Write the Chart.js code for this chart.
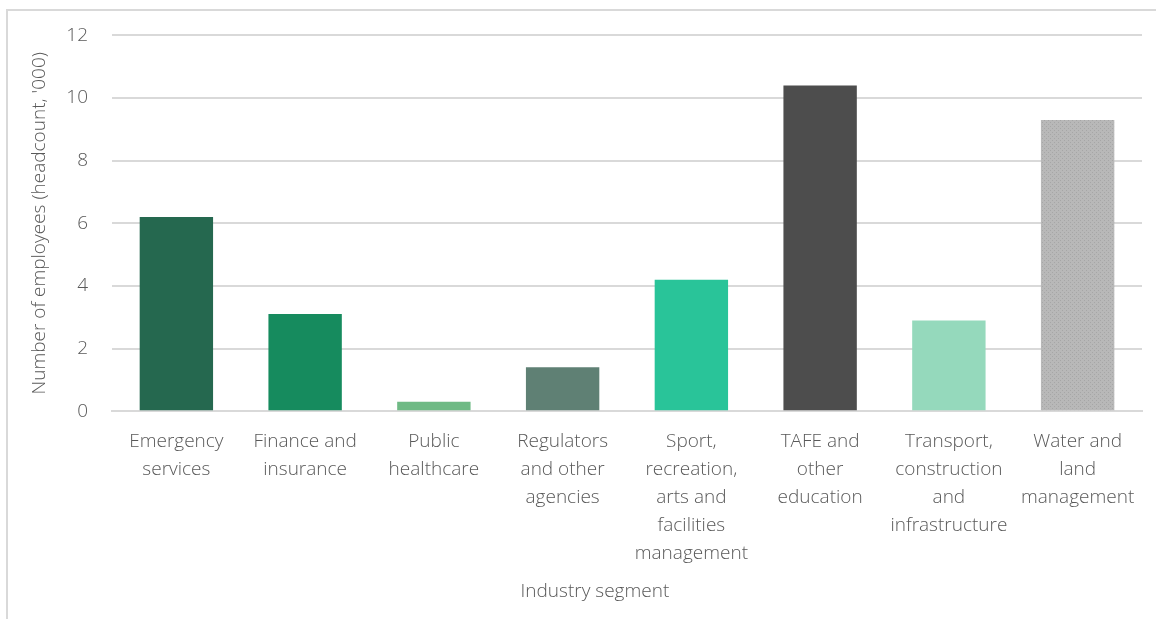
<!DOCTYPE html>
<html lang="en">
<head>
    <meta charset="UTF-8">
    <title>Employees by industry segment</title>
    <script src="https://cdn.jsdelivr.net/npm/chart.js"></script>
    <style>
        html, body {
            margin: 0;
            padding: 0;
            background: #fff;
            overflow: hidden;
        }
        .frame {
            position: absolute;
            left: 6px;
            top: 9px;
            width: 1170px;
            height: 640px;
            border: 2px solid #d9d9d9;
        }
        .wrap {
            position: absolute;
            left: 0;
            top: 0;
            width: 1156px;
            height: 619px;
        }
    </style>
</head>
<body>
    <div class="frame"></div>
    <div class="wrap">
        <canvas id="chart"></canvas>
    </div>

    <script>
        const categories = [
            ["Emergency", "services"],
            ["Finance and", "insurance"],
            ["Public", "healthcare"],
            ["Regulators", "and other", "agencies"],
            ["Sport,", "recreation,", "arts and", "facilities", "management"],
            ["TAFE and", "other", "education"],
            ["Transport,", "construction", "and", "infrastructure"],
            ["Water and", "land", "management"]
        ];
        const employees = [6.2, 3.1, 0.3, 1.4, 4.2, 10.4, 2.9, 9.3];
        const yTicks = [0, 2, 4, 6, 8, 10, 12];

        const textColor = '#595959';
        const gridColor = '#d9d9d9';
        const font = { family: "'Open Sans', sans-serif", size: 19, weight: 300, lineHeight: 28 / 19 };
        const titleFont = { family: "'Open Sans', sans-serif", size: 19, weight: 300, lineHeight: 1.2 };

        // dotted grey fill like the last bar
        function dotPattern() {
            const c = document.createElement('canvas');
            c.width = 4;
            c.height = 4;
            const g = c.getContext('2d');
            g.fillStyle = '#b8b8b8';
            g.fillRect(0, 0, 4, 4);
            g.fillStyle = '#a6a6a6';
            g.fillRect(0, 0, 1, 1);
            g.fillRect(2, 2, 1, 1);
            return g.createPattern(c, 'repeat');
        }

        const colors = ['#25684f', '#168b5e', '#6fba85', '#5f8074', '#29c499', '#4d4d4d', '#95d9bc', dotPattern()];

        new Chart(document.getElementById('chart'), {
            type: 'bar',
            data: {
                labels: categories,
                datasets: [{
                    data: employees,
                    backgroundColor: colors,
                    borderWidth: 0,
                    barPercentage: 0.57,
                    categoryPercentage: 1
                }]
            },
            options: {
                responsive: true,
                maintainAspectRatio: false,
                animation: false,
                layout: {
                    padding: { left: 28, right: 14, top: 26, bottom: 16 }
                },
                plugins: {
                    legend: { display: false },
                    tooltip: { enabled: false }
                },
                scales: {
                    x: {
                        grid: { display: false },
                        border: { color: gridColor, width: 2 },
                        ticks: {
                            color: textColor,
                            font: font,
                            maxRotation: 0,
                            autoSkip: false,
                            padding: 8
                        },
                        title: {
                            display: true,
                            // trailing spaces nudge the centred title a bit to the left
                            text: 'Industry segment' + '\u00a0'.repeat(13),
                            color: textColor,
                            font: titleFont,
                            padding: { top: 5, bottom: 0 }
                        }
                    },
                    y: {
                        min: 0,
                        max: 12,
                        afterBuildTicks: axis => {
                            axis.ticks = yTicks.map(v => ({ value: v }));
                        },
                        afterFit: axis => {
                            axis.width = 84;
                        },
                        grid: { color: gridColor, lineWidth: 2, drawTicks: false },
                        border: { display: false },
                        ticks: {
                            color: textColor,
                            font: titleFont,
                            padding: 24
                        },
                        title: {
                            display: true,
                            text: "Number of employees (headcount, '000)",
                            color: textColor,
                            font: titleFont,
                            padding: { top: 0, bottom: 0 }
                        }
                    }
                }
            }
        });
    </script>
</body>
</html>
